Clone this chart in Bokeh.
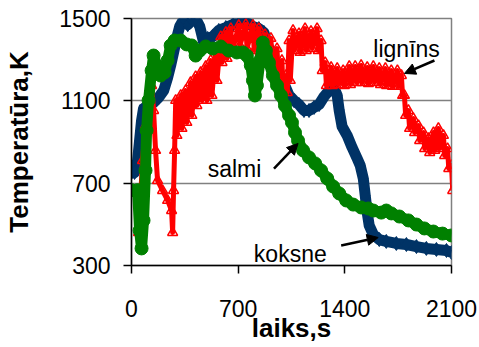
from bokeh.plotting import figure
from bokeh.models import Label, Arrow, NormalHead, FixedTicker, Range1d
from bokeh.embed import file_html
from bokeh.resources import INLINE

x_ticks = [0, 700, 1400, 2100]
y_ticks = [300, 700, 1100, 1500]

koksne_t = [0, 20, 40, 53, 66, 79, 112, 145, 178, 211, 237, 257, 276, 296, 316, 342, 369, 395, 421, 448,
            474, 500, 533, 573, 619, 665, 718, 757, 797, 836, 869, 895, 928, 961, 1001, 1034, 1066, 1099,
            1132, 1165, 1198, 1231, 1264, 1297, 1330, 1350, 1363, 1382, 1415, 1448, 1481, 1501, 1521, 1534,
            1547, 1560, 1587, 1626, 1672, 1738, 1804, 1870, 1935, 2001, 2067, 2100]
koksne_k = [752, 752, 810, 907, 1004, 1063, 1072, 1092, 1116, 1150, 1213, 1272, 1335, 1403, 1461, 1495,
            1470, 1490, 1500, 1461, 1383, 1403, 1412, 1442, 1456, 1471, 1490, 1481, 1461, 1451, 1432, 1369,
            1296, 1247, 1184, 1126, 1102, 1082, 1053, 1053, 1068, 1082, 1121, 1150, 1160, 1126, 1053, 975,
            932, 873, 820, 786, 723, 640, 557, 494, 450, 426, 417, 407, 402, 392, 383, 378, 373, 363]

salmi_t = [0, 40, 53, 66, 79, 92, 99, 112, 132, 145, 165, 191, 217, 237, 257, 283, 323, 362, 395, 421,
           448, 487, 533, 586, 639, 691, 731, 757, 783, 797, 810, 823, 843, 862, 882, 902, 928, 955, 981,
           1007, 1034, 1053, 1073, 1093, 1126, 1165, 1205, 1244, 1284, 1323, 1363, 1409, 1455, 1507, 1554,
           1587, 1639, 1672, 1705, 1758, 1817, 1870, 1922, 1981, 2041, 2100]
salmi_k = [666, 666, 470, 383, 519, 762, 956, 1102, 1247, 1320, 1272, 1223, 1238, 1296, 1369, 1393, 1393,
           1374, 1369, 1320, 1344, 1364, 1354, 1364, 1344, 1335, 1335, 1320, 1272, 1199, 1126, 1175, 1296,
           1383, 1344, 1286, 1223, 1175, 1126, 1077, 1029, 995, 946, 907, 859, 825, 796, 762, 723, 684, 650,
           616, 596, 582, 577, 567, 557, 567, 553, 538, 519, 499, 480, 465, 455, 446]

# lignins: readings oscillate strongly, so the upper and lower values are listed in turn
lignins_t = [46, 59, 72, 92, 112, 132, 145, 158, 171, 204, 237, 263, 270, 276, 283,
             290, 298, 323, 331, 355, 363, 388, 396, 421, 429, 454, 462, 487, 495, 520, 528,
             553, 561, 586, 594, 619, 627, 652, 660, 704, 712,
             750, 758, 797, 805, 836, 844, 876, 884, 915, 923, 955, 963, 987, 995, 1014, 1022, 1034, 1042,
             1060, 1068, 1099, 1107, 1139, 1147, 1178, 1186, 1218, 1226, 1244, 1252, 1271, 1279,
             1310, 1318, 1350, 1358, 1389, 1397, 1429, 1437, 1468, 1476, 1507, 1515, 1547, 1555,
             1587, 1595, 1626, 1634, 1666, 1674, 1705, 1713, 1745, 1753,
             1771, 1779, 1791, 1799, 1817, 1825, 1850, 1858, 1883, 1891, 1916, 1924, 1949, 1957,
             1982, 1990, 2014, 2022, 2047, 2055, 2074, 2082, 2100, 2108]
lignins_k = [460, 616, 810, 980, 1102, 1174, 1053, 859, 713, 664, 616, 567, 460, 664, 859,
             1102, 932, 1126, 966, 1150, 995, 1189, 1029, 1218, 1077, 1238, 1102, 1267, 1102, 1296, 1126,
             1354, 1199, 1412, 1286, 1432, 1306, 1451, 1335, 1466, 1369,
             1471, 1354, 1466, 1344, 1451, 1335, 1422, 1306, 1403, 1286, 1354, 1223, 1296, 1160, 1223, 1140,
             1393, 1199,
             1442, 1344, 1427, 1335, 1451, 1344, 1437, 1354, 1451, 1344, 1393, 1247, 1286, 1174,
             1262, 1174, 1257, 1179, 1247, 1174, 1267, 1179, 1267, 1189, 1272, 1189, 1262, 1184,
             1267, 1189, 1257, 1179, 1257, 1174, 1247, 1170, 1247, 1170,
             1223, 1126, 1126, 1029, 1053, 966, 1014, 946, 980, 907, 946, 868, 917, 849,
             946, 859, 966, 868, 932, 834, 868, 771, 786, 664]

FONT = "Liberation Sans"
BLUE = "#003366"
GREEN = "#008000"
RED = "#FF0000"

p = figure(width=477, height=347, output_backend="svg", toolbar_location=None,
           x_range=Range1d(0, 2100), y_range=Range1d(300, 1500),
           min_border_left=131, min_border_right=26, min_border_top=18, min_border_bottom=82)
p.background_fill_color = "white"
p.border_fill_color = "white"
p.outline_line_color = "#808080"
p.outline_line_width = 1.5

p.xgrid.visible = False
p.ygrid.grid_line_color = "#808080"
p.ygrid.grid_line_width = 1.5
p.ygrid.ticker = FixedTicker(ticks=y_ticks)

for ax, ticks in ((p.xaxis, x_ticks), (p.yaxis, y_ticks)):
    ax.ticker = FixedTicker(ticks=ticks)
    ax.axis_line_color = "black"
    ax.axis_line_width = 1.5
    ax.major_tick_line_color = "black"
    ax.major_tick_line_width = 1.5
    ax.major_tick_out = 8
    ax.major_tick_in = 0
    ax.minor_tick_line_color = None
    ax.major_label_text_font = FONT
    ax.major_label_text_font_size = "23px"
    ax.major_label_text_color = "black"
    ax.axis_label_text_font = FONT
    ax.axis_label_text_font_size = "26px"
    ax.axis_label_text_font_style = "bold"
    ax.axis_label_text_color = "black"

p.xaxis.axis_label = "laiks,s"
p.yaxis.axis_label = "Temperatūra,K"
p.xaxis.major_label_standoff = 26
p.yaxis.major_label_standoff = 13
p.xaxis.axis_label_standoff = -7
p.yaxis.axis_label_standoff = 22

# koksne
p.line(koksne_t, koksne_k, line_color=BLUE, line_width=11, line_join="round")
p.scatter(koksne_t, koksne_k, marker="diamond", size=14, fill_color=BLUE, line_color=BLUE)
# lignins
p.line(lignins_t, lignins_k, line_color=RED, line_width=5, line_join="round")
p.scatter(lignins_t, lignins_k, marker="triangle", size=10, fill_color=None, line_color=RED, line_width=1.5)
# salmi
p.line(salmi_t, salmi_k, line_color=GREEN, line_width=11, line_join="round")
p.scatter(salmi_t, salmi_k, marker="circle", size=13, fill_color=GREEN, line_color=GREEN)

for txt, xx, yy in (("lignīns", 1587, 1352), ("salmi", 500, 771), ("koksne", 803, 358)):
    p.add_layout(Label(x=xx, y=yy, text=txt, text_font=FONT, text_font_size="23px",
                       text_color="black", text_baseline="alphabetic", text_align="left"))

for (x0, y0, x1, y1) in ((1988, 1296, 1791, 1233), (935, 771, 1093, 893), (1376, 397, 1619, 436)):
    p.add_layout(Arrow(x_start=x0, y_start=y0, x_end=x1, y_end=y1, line_color="black", line_width=2.5,
                       end=NormalHead(size=11, fill_color="black", line_color="black")))

open("out.html", "w").write(file_html(p, INLINE))
